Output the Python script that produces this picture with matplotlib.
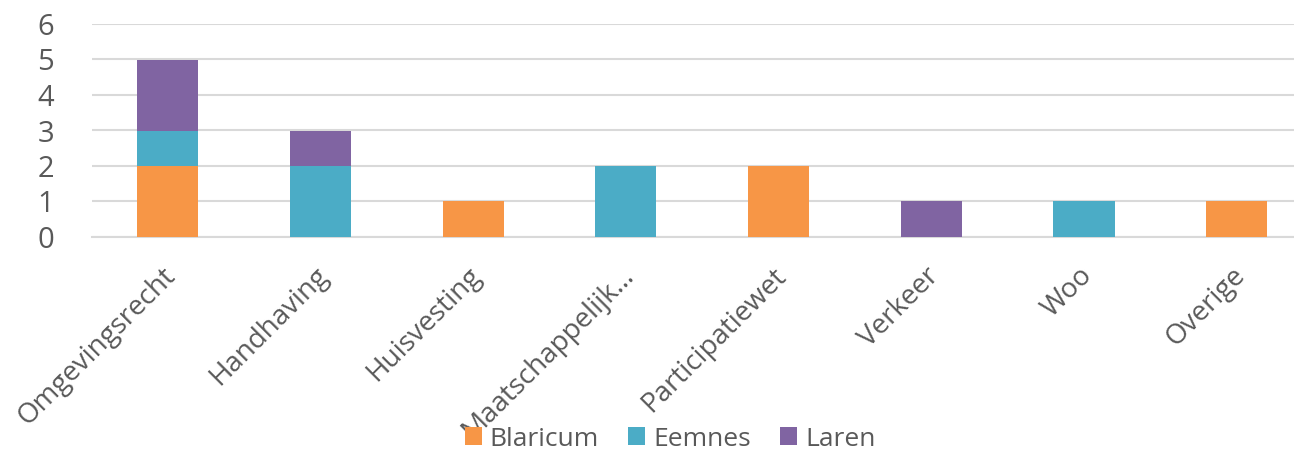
import matplotlib
matplotlib.use("Agg")
import matplotlib.pyplot as plt
import matplotlib.transforms as mtransforms
import numpy as np

categories = ["Omgevingsrecht", "Handhaving", "Huisvesting", "Maatschappelijk…",
              "Participatiewet", "Verkeer", "Woo", "Overige"]
blaricum = [2, 0, 1, 0, 2, 0, 0, 1]
eemnes = [1, 2, 0, 2, 0, 0, 1, 0]
laren = [2, 1, 0, 0, 0, 1, 0, 0]
series_names = ["Blaricum", "Eemnes", "Laren"]
colors = ["#F79646", "#4BACC6", "#8064A2"]
yticks = [0, 1, 2, 3, 4, 5, 6]

plt.rcParams['font.family'] = ['Open Sans', 'DejaVu Sans']
txt = "#595959"

fig = plt.figure(figsize=(12.94, 4.5), dpi=100)
ax = fig.add_axes([91.5/1294, 1-237/450, (1313-91.5)/1294, (237-24)/450])

x = np.arange(len(categories))
bottom = np.zeros(len(categories))
handles = []
for vals, name, c in zip([blaricum, eemnes, laren], series_names, colors):
    h = ax.bar(x, vals, width=0.4, bottom=bottom, color=c, label=name, zorder=3)
    handles.append(h)
    bottom += np.array(vals)

ax.set_xlim(-0.5, len(categories) - 0.5)
ax.set_ylim(0, 6)
ax.set_yticks(yticks)
ax.set_yticklabels([str(v) for v in yticks], fontsize=21, color=txt)
ax.yaxis.grid(True, color="#D9D9D9", linewidth=1.5, zorder=0)
ax.tick_params(axis='y', length=0, pad=27)
ax.tick_params(axis='x', length=0, pad=18)
for s in ["top", "right", "left"]:
    ax.spines[s].set_visible(False)
ax.spines["bottom"].set_color("#D9D9D9")
ax.spines["bottom"].set_linewidth(1.5)

ax.set_xticks(x)
ax.set_xticklabels(categories, rotation=45, ha="right", va="top",
                   rotation_mode="anchor", fontsize=20, color=txt)
offset = mtransforms.ScaledTranslation(-6/100, 0, fig.dpi_scale_trans)
for lbl in ax.get_xticklabels():
    lbl.set_transform(lbl.get_transform() + offset)

fig.legend(handles=handles, labels=series_names, loc="center",
           bbox_to_anchor=(670/1294, 1-439/450), ncol=3, frameon=False,
           fontsize=19, labelcolor=txt, handlelength=0.65, handleheight=0.65,
           handletextpad=0.3, columnspacing=1.1, borderpad=0.1)

fig.savefig("out.png", dpi=100)
